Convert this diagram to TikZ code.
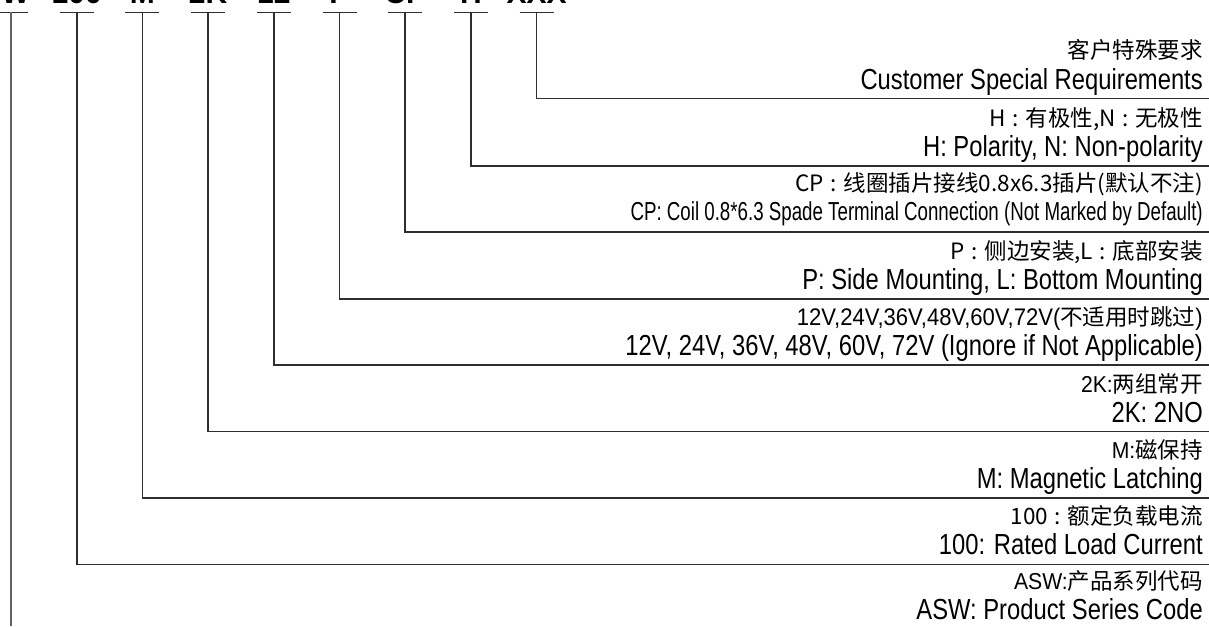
\documentclass[tikz,border=0pt]{standalone}
\usepackage{fontspec}
\newfontfamily\cjk{Noto Sans CJK SC}
\newfontfamily\narrowfnt[FakeStretch=0.82]{Liberation Sans}
\newfontfamily\condfnt[FakeStretch=0.72]{Liberation Sans}
\newfontfamily\latfnt[FakeStretch=0.92]{Liberation Sans}
\newfontfamily\codefnt{Liberation Sans}
\tikzset{
  lead/.style={line width=1.7pt, draw=black!82},
  leadgray/.style={line width=2.2pt, draw=black!62},
  cnlabel/.style={anchor=base east, inner sep=0pt, font=\cjk\fontsize{22.5}{22.5}\selectfont},
  enlabel/.style={anchor=base east, inner sep=0pt, font=\narrowfnt\fontsize{29}{29}\selectfont},
  codelabel/.style={anchor=base, inner sep=0pt, font=\codefnt\bfseries\fontsize{30}{30}\selectfont},
}
\newcommand{\narlat}[1]{{\latfnt\fontsize{23}{23}\selectfont #1}}
\newcommand{\biglat}[1]{{\latfnt\fontsize{24}{24}\selectfont #1}}
\newcommand{\cc}{\hspace{0.3em}:\hspace{0.3em}}
\begin{document}
\begin{tikzpicture}[x=1pt,y=-1pt]
\useasboundingbox (0,0) rectangle (1209,626);
% code segments (cut off at the top edge)
\foreach \i/\t in {0/ASW,1/100,2/M,3/2K,4/12,5/P,6/CP,7/H,8/XXX}{
  \coordinate (t\i) at ({11+65.7*\i},12.5);
  \draw[lead] ([xshift=-17pt]t\i) -- ([xshift=17pt]t\i);
}
\foreach \i/\t in {1/100,2/M,3/2K,4/12,5/P,6/CP,7/H,8/XXX}{
  \node[codelabel] (c\i) at ({11+65.7*\i},3.5) {\t};
}
\node[codelabel, anchor=base east] (c0) at (30,3.5) {ASW};
% line end points at the right edge
\foreach \i/\y in {1/564.4,2/498,3/431.6,4/365.2,5/298.8,6/232.3,7/165.7,8/98.5}{
  \coordinate (e\i) at (1209,\y);
  \draw[lead] (t\i) |- (e\i);
}
\coordinate (b0) at (11,626);
\draw[leadgray] (t0) -- (b0);
% labels
\node[cnlabel] (cn8) at (1203,{98.5-39.5}) {客户特殊要求};
\node[enlabel] (en8) at (1203,{98.5-9.5}) {Customer Special Requirements};
\node[cnlabel] (cn7) at (1203,{165.7-39.5}) {H\cc 有极性,N\cc 无极性};
\node[enlabel] (en7) at (1203,{165.7-9.5}) {H: Polarity, N: Non-polarity};
\node[cnlabel] (cn6) at (1203,{232.3-41}) {CP\cc 线圈插片接线0.8x6.3插片(默认不注)};
\node[enlabel, font=\condfnt\fontsize{26}{26}\selectfont] (en6) at (1203,{232.3-12}) {CP: Coil 0.8*6.3 Spade Terminal Connection (Not Marked by Default)};
\node[cnlabel] (cn5) at (1203,{298.8-39.5}) {P\cc 侧边安装,L\cc 底部安装};
\node[enlabel] (en5) at (1203,{298.8-9.5}) {P: Side Mounting, L: Bottom Mounting};
\node[cnlabel] (cn4) at (1203,{365.2-39.5}) {\biglat{12V,24V,36V,48V,60V,72V(}不适用时跳过\biglat{)}};
\node[enlabel] (en4) at (1203,{365.2-9.5}) {12V, 24V, 36V, 48V, 60V, 72V (Ignore if Not Applicable)};
\node[cnlabel] (cn3) at (1203,{431.6-39.5}) {\narlat{2K:}两组常开};
\node[enlabel] (en3) at (1203,{431.6-9.5}) {2K: 2NO};
\node[cnlabel] (cn2) at (1203,{498-39.5}) {\narlat{M:}磁保持};
\node[enlabel] (en2) at (1203,{498-9.5}) {M: Magnetic Latching};
\node[cnlabel] (cn1) at (1203,{564.4-39.5}) {100\cc 额定负载电流};
\node[enlabel] (en1) at (1203,{564.4-9.5}) {100: Rated Load Current};
\node[cnlabel] (cn0) at (1203,{630.8-41}) {\narlat{ASW:}产品系列代码};
\node[enlabel] (en0) at (1203,{630.8-11}) {ASW: Product Series Code};
\end{tikzpicture}
\end{document}
